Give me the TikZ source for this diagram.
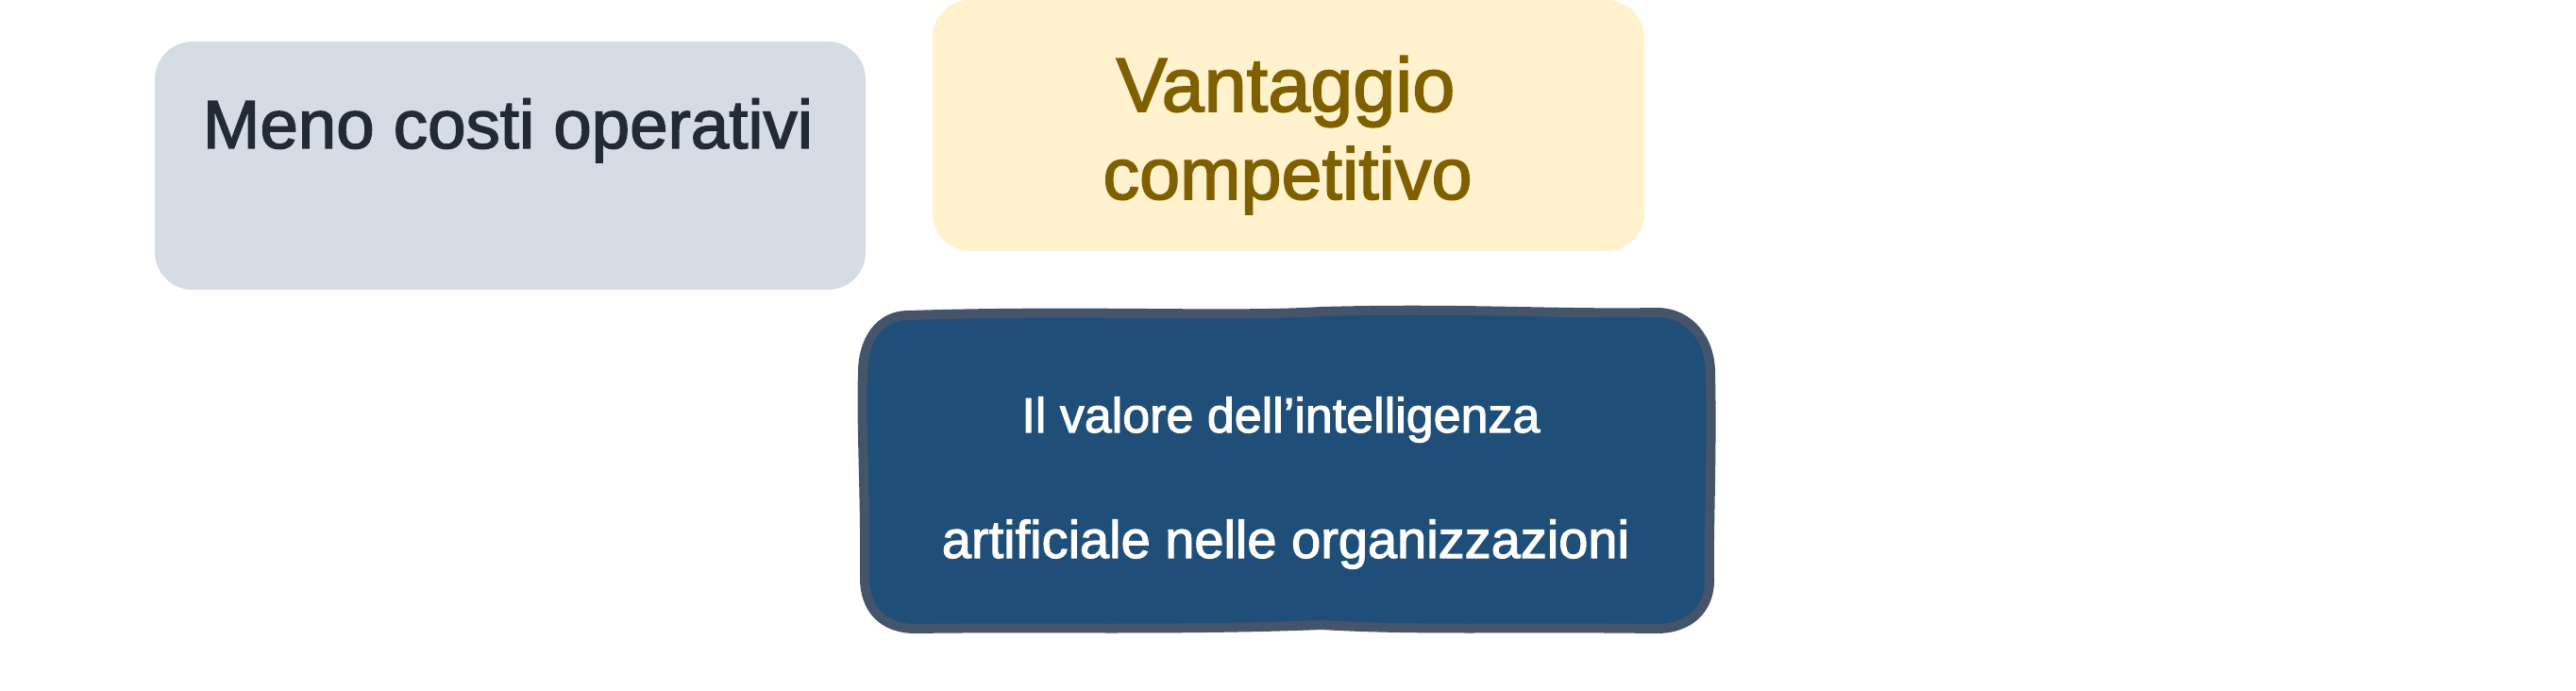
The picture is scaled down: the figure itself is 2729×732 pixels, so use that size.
\documentclass[tikz,border=0pt]{standalone}
\usepackage{fontspec}
\setmainfont{Liberation Sans}[FakeBold=2]
\definecolor{grayfill}{HTML}{D6DCE5}
\definecolor{graytext}{HTML}{222A35}
\definecolor{yelfill}{HTML}{FFF2CC}
\definecolor{yeltext}{HTML}{7F6000}
\definecolor{bluefill}{HTML}{1F4E79}
\definecolor{bluestroke}{HTML}{44546A}
\begin{document}
\begin{tikzpicture}[x=0.3pt,y=-0.3pt,
  txt/.style={anchor=base, inner sep=0pt}]
\useasboundingbox (0,0) rectangle (2729,732);
% gray card
\fill[grayfill, rounded corners=12pt] (164,44) rectangle (917,307);
\node[txt, text=graytext, font=\fontsize{21.8pt}{26pt}\selectfont] (meno) at (538,157) {Meno costi operativi};
% yellow card
\fill[yelfill, rounded corners=12pt] (988,0) rectangle (1742,266);
\node[txt, text=yeltext, font=\fontsize{24.3pt}{29pt}\selectfont] (vant) at (1362,118) {Vantaggio};
\node[txt, text=yeltext, font=\fontsize{23.2pt}{28pt}\selectfont] (comp) at (1364,211) {competitivo};
% blue wobbly card
\filldraw[fill=bluefill, draw=bluestroke, line width=3pt, line join=round]
  (962,334) .. controls (1150,328) and (1300,336) .. (1400,330)
  .. controls (1550,326) and (1650,333) .. (1755,331)
  .. controls (1790,331) and (1812,360) .. (1812,395)
  .. controls (1814,480) and (1810,560) .. (1811,615)
  .. controls (1811,645) and (1790,666) .. (1755,666)
  .. controls (1600,664) and (1500,668) .. (1400,662)
  .. controls (1250,668) and (1100,664) .. (970,666)
  .. controls (935,666) and (916,645) .. (916,612)
  .. controls (917,520) and (912,450) .. (914,395)
  .. controls (914,360) and (932,334) .. (962,334) -- cycle;
\node[txt, text=white, font=\fontsize{15.6pt}{19pt}\selectfont] (l1) at (1357,458) {Il valore dell’intelligenza};
\node[txt, text=white, font=\fontsize{16.8pt}{20pt}\selectfont] (l2) at (1362,591) {artificiale nelle organizzazioni};
\end{tikzpicture}
\end{document}
